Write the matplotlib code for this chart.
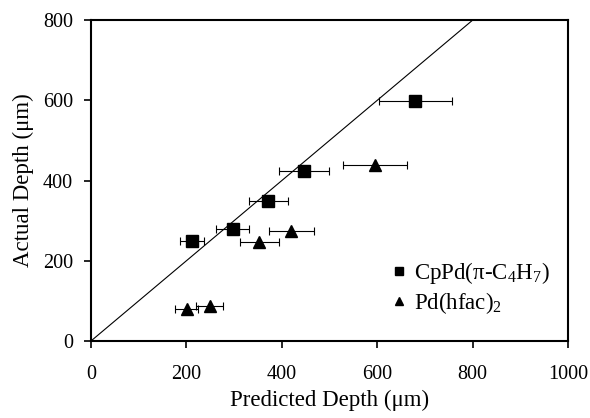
import matplotlib
matplotlib.use("Agg")
import matplotlib.pyplot as plt

# data
sq_x = [211, 297, 372, 446, 680]
sq_y = [250, 279, 350, 423, 598]
sq_err = [25, 34, 41, 52, 76]

tr_x = [201, 249, 353, 420, 595]
tr_y = [80, 88, 248, 275, 439]
tr_err = [24, 28, 41, 47, 67]

line_x = [0, 800]
line_y = [0, 800]

xticks = [0, 200, 400, 600, 800, 1000]
yticks = [0, 200, 400, 600, 800]

plt.rcParams['font.family'] = ['Liberation Serif', 'DejaVu Serif']
plt.rcParams['mathtext.fontset'] = 'custom'
plt.rcParams['mathtext.rm'] = 'Liberation Serif'

fig = plt.figure(figsize=(5.9, 4.18), dpi=100)
ax = fig.add_axes([0.154, 0.184, 0.809, 0.768])

ax.plot(line_x, line_y, color='black', lw=0.8)
ax.errorbar(sq_x, sq_y, xerr=sq_err, fmt='s', color='black', ms=8,
            ecolor='black', elinewidth=0.8, capsize=3, capthick=0.8,
            label=r'CpPd(π-C$_{\mathrm{4}}$H$_{\mathrm{7}}$)')
ax.errorbar(tr_x, tr_y, xerr=tr_err, fmt='^', color='black', ms=8.5,
            ecolor='black', elinewidth=0.8, capsize=3, capthick=0.8,
            label=r'Pd(hfac)$_{\mathrm{2}}$')

ax.set_xlim(0, 1000)
ax.set_ylim(0, 800)
ax.set_xticks(xticks)
ax.set_yticks(yticks)
ax.tick_params(direction='out', length=5, width=1.2, labelsize=14.5)
ax.tick_params(axis='x', pad=12.5)
ax.tick_params(axis='y', pad=8)
for s in ax.spines.values():
    s.set_linewidth(1.5)

ax.set_xlabel('Predicted Depth (μm)', fontsize=16.5, labelpad=4)
ax.set_ylabel('Actual Depth (μm)', fontsize=16.5, labelpad=6)

handles, labels = ax.get_legend_handles_labels()
handles = [h[0] for h in handles]
ax.legend(handles, labels, loc='center left', bbox_to_anchor=(0.627, 0.165),
          frameon=False, fontsize=16.5, handletextpad=0.22, handlelength=0.8,
          labelspacing=0.2, borderpad=0, borderaxespad=0, markerscale=0.75)

fig.savefig('out.png', dpi=100)
